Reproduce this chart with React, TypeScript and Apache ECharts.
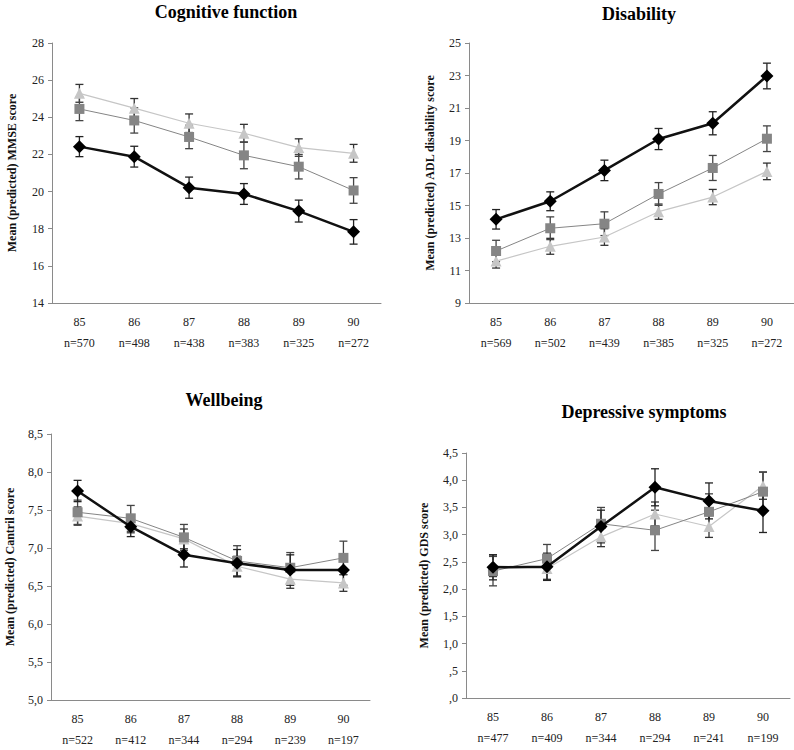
import React, { useEffect, useRef } from "react";
import * as echarts from "echarts";

// ---------- data ----------
const ages = ["85", "86", "87", "88", "89", "90"];

const cognitionN = [570, 498, 438, 383, 325, 272];
const disabilityN = [569, 502, 439, 385, 325, 272];
const wellbeingN = [522, 412, 344, 294, 239, 197];
const depressionN = [477, 409, 344, 294, 241, 199];

const cognitionDiamond = [22.42, 21.88, 20.21, 19.87, 18.95, 17.83];
const cognitionDiamondErr = [0.54, 0.56, 0.57, 0.56, 0.59, 0.66];
const cognitionSquare = [24.45, 23.83, 22.94, 21.95, 21.34, 20.06];
const cognitionSquareErr = [0.63, 0.68, 0.63, 0.72, 0.66, 0.69];
const cognitionTriangle = [25.29, 24.49, 23.68, 23.14, 22.37, 22.06];
const cognitionTriangleErr = [0.48, 0.52, 0.5, 0.48, 0.47, 0.48];

const disabilityDiamond = [14.15, 15.26, 17.16, 19.09, 20.06, 22.97];
const disabilityDiamondErr = [0.6, 0.58, 0.63, 0.65, 0.71, 0.79];
const disabilitySquare = [12.2, 13.6, 13.88, 15.71, 17.31, 19.11];
const disabilitySquareErr = [0.66, 0.7, 0.73, 0.7, 0.77, 0.79];
const disabilityTriangle = [11.58, 12.49, 13.06, 14.62, 15.52, 17.1];
const disabilityTriangleErr = [0.43, 0.49, 0.51, 0.47, 0.47, 0.51];

const wellbeingDiamond = [7.75, 7.28, 6.91, 6.8, 6.71, 6.71];
const wellbeingDiamondErr = [0.14, 0.13, 0.16, 0.18, 0.2, 0.2];
const wellbeingSquare = [7.47, 7.39, 7.14, 6.83, 6.74, 6.87];
const wellbeingSquareErr = [0.16, 0.17, 0.17, 0.2, 0.2, 0.22];
const wellbeingTriangle = [7.42, 7.32, 7.12, 6.76, 6.59, 6.54];
const wellbeingTriangleErr = [0.12, 0.12, 0.13, 0.13, 0.12, 0.11];

const depressionDiamond = [2.4, 2.41, 3.15, 3.87, 3.62, 3.44];
const depressionDiamondErr = [0.23, 0.25, 0.3, 0.34, 0.33, 0.4];
const depressionSquare = [2.33, 2.56, 3.2, 3.08, 3.42, 3.79];
const depressionSquareErr = [0.27, 0.26, 0.3, 0.37, 0.33, 0.36];
const depressionTriangle = [2.43, 2.38, 2.96, 3.38, 3.15, 3.9];
const depressionTriangleErr = [0.2, 0.2, 0.18, 0.22, 0.2, 0.25];

const cognitionTicks = [14, 16, 18, 20, 22, 24, 26, 28];
const disabilityTicks = [9, 11, 13, 15, 17, 19, 21, 23, 25];
const wellbeingTicks = [5.0, 5.5, 6.0, 6.5, 7.0, 7.5, 8.0, 8.5];
const depressionTicks = [0, 0.5, 1.0, 1.5, 2.0, 2.5, 3.0, 3.5, 4.0, 4.5];

// ---------- layout / style ----------
const FONT = '"Liberation Serif", "Times New Roman", serif';

const panels = [
  {
    title: "Cognitive function", tx: 226, ty: 12,
    yName: "Mean (predicted) MMSE score", nameGap: 34,
    grid: { left: 52, top: 43, width: 329, height: 260 },
    ticks: cognitionTicks, fmt: (v: number) => String(v),
    n: cognitionN,
    d: cognitionDiamond, de: cognitionDiamondErr,
    s: cognitionSquare, se: cognitionSquareErr,
    t: cognitionTriangle, te: cognitionTriangleErr,
  },
  {
    title: "Disability", tx: 639, ty: 14,
    yName: "Mean (predicted) ADL disability score", nameGap: 33,
    grid: { left: 469, top: 43, width: 325, height: 260 },
    ticks: disabilityTicks, fmt: (v: number) => String(v),
    n: disabilityN,
    d: disabilityDiamond, de: disabilityDiamondErr,
    s: disabilitySquare, se: disabilitySquareErr,
    t: disabilityTriangle, te: disabilityTriangleErr,
  },
  {
    title: "Wellbeing", tx: 224, ty: 400,
    yName: "Mean (predicted) Cantril score", nameGap: 35,
    grid: { left: 51, top: 434, width: 319, height: 266 },
    ticks: wellbeingTicks, fmt: (v: number) => v.toFixed(1).replace(".", ","),
    n: wellbeingN,
    d: wellbeingDiamond, de: wellbeingDiamondErr,
    s: wellbeingSquare, se: wellbeingSquareErr,
    t: wellbeingTriangle, te: wellbeingTriangleErr,
  },
  {
    title: "Depressive symptoms", tx: 644, ty: 412,
    yName: "Mean (predicted) GDS score", nameGap: 36,
    grid: { left: 466, top: 453, width: 324, height: 245 },
    ticks: depressionTicks,
    fmt: (v: number) => v.toFixed(1).replace(".", ",").replace(/^0/, ""),
    n: depressionN,
    d: depressionDiamond, de: depressionDiamondErr,
    s: depressionSquare, se: depressionSquareErr,
    t: depressionTriangle, te: depressionTriangleErr,
  },
];

function errorSeries(gi: number, vals: number[], errs: number[], color: string) {
  return {
    type: "custom",
    xAxisIndex: gi,
    yAxisIndex: gi,
    z: 1,
    silent: true,
    data: vals.map((v, i) => [i, v - errs[i], v + errs[i]]),
    encode: { x: 0, y: [1, 2] },
    renderItem: (params: any, api: any) => {
      const x = api.value(0);
      const lo = api.coord([x, api.value(1)]);
      const hi = api.coord([x, api.value(2)]);
      const cap = 4;
      const style = { stroke: color, lineWidth: 1.3 };
      return {
        type: "group",
        children: [
          { type: "line", shape: { x1: lo[0], y1: lo[1], x2: hi[0], y2: hi[1] }, style },
          { type: "line", shape: { x1: lo[0] - cap, y1: lo[1], x2: lo[0] + cap, y2: lo[1] }, style },
          { type: "line", shape: { x1: hi[0] - cap, y1: hi[1], x2: hi[0] + cap, y2: hi[1] }, style },
        ],
      };
    },
  };
}

function lineSeries(gi: number, vals: number[], symbol: string, size: number, markerColor: string, lineColor: string, width: number, z: number) {
  return {
    type: "line",
    xAxisIndex: gi,
    yAxisIndex: gi,
    data: vals,
    symbol,
    symbolSize: size,
    showAllSymbol: true,
    z,
    itemStyle: { color: markerColor, borderWidth: 0 },
    lineStyle: { color: lineColor, width },
    emphasis: { disabled: true },
  };
}

export default function App() {
  const ref = useRef<HTMLDivElement>(null);

  useEffect(() => {
    document.body.style.margin = "0";
    if (!ref.current) return;
    const chart = echarts.init(ref.current, null, { renderer: "svg" });

    const grids = panels.map((p) => ({ ...p.grid, containLabel: false }));
    const xAxes = panels.map((p, gi) => ({
      type: "category",
      gridIndex: gi,
      data: ages,
      boundaryGap: true,
      axisLine: { show: true, lineStyle: { color: "#8a8a8a", width: 1 } },
      axisTick: { show: false },
      splitLine: { show: false },
      axisLabel: {
        interval: 0,
        margin: 8,
        formatter: (v: string, i: number) => `{a|${v}}\n{b|n=${p.n[i]}}`,
        rich: {
          a: { fontFamily: FONT, fontSize: 12, color: "#222", lineHeight: 21 },
          b: { fontFamily: FONT, fontSize: 12, color: "#222", lineHeight: 21 },
        },
      },
    }));
    const yAxes = panels.map((p, gi) => ({
      type: "value",
      gridIndex: gi,
      min: p.ticks[0],
      max: p.ticks[p.ticks.length - 1],
      name: p.yName,
      nameLocation: "middle",
      nameGap: p.nameGap,
      nameRotate: 90,
      nameTextStyle: { fontFamily: FONT, fontSize: 12, fontWeight: "bold", color: "#111" },
      axisLine: { show: true, lineStyle: { color: "#8a8a8a", width: 1 } },
      axisTick: { show: true, length: 4, inside: false, customValues: p.ticks, lineStyle: { color: "#8a8a8a" } },
      splitLine: { show: false },
      axisLabel: {
        customValues: p.ticks,
        margin: 8,
        fontFamily: FONT,
        fontSize: 12,
        color: "#222",
        formatter: (v: number) => p.fmt(v),
      },
    }));

    const series: any[] = [];
    panels.forEach((p, gi) => {
      series.push(errorSeries(gi, p.t, p.te, "#333"));
      series.push(errorSeries(gi, p.s, p.se, "#444"));
      series.push(errorSeries(gi, p.d, p.de, "#222"));
      series.push(lineSeries(gi, p.t, "triangle", 11, "#c6c6c6", "#c6c6c6", 1.2, 3));
      series.push(lineSeries(gi, p.s, "rect", 10, "#858585", "#858585", 1, 4));
      series.push(lineSeries(gi, p.d, "diamond", 13, "#000", "#111", 2.5, 5));
    });

    const graphic = panels.map((p) => ({
      type: "text",
      x: p.tx,
      y: p.ty,
      style: {
        text: p.title,
        fill: "#000",
        font: `bold 18px ${FONT}`,
        fontFamily: FONT,
        fontSize: 18,
        fontWeight: "bold",
        align: "center",
        verticalAlign: "middle",
        textAlign: "center",
        textVerticalAlign: "middle",
      },
    }));

    chart.setOption({
      animation: false,
      backgroundColor: "#fff",
      grid: grids,
      xAxis: xAxes,
      yAxis: yAxes,
      series,
      graphic,
    });

    return () => chart.dispose();
  }, []);

  return <div ref={ref} style={{ width: 794, height: 750 }} />;
}
